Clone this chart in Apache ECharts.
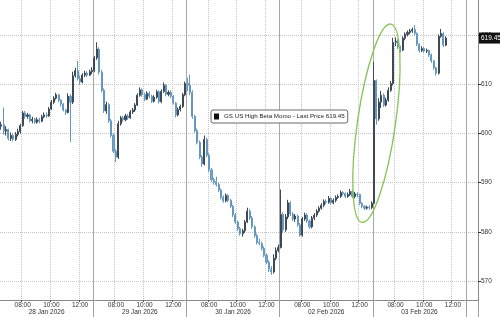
<!DOCTYPE html>
<html><head><meta charset="utf-8">
<script src="https://cdn.jsdelivr.net/npm/echarts@6/dist/echarts.min.js"></script>
<style>html,body{margin:0;padding:0;background:#fff}#c{width:500px;height:317px}</style>
</head><body><div id="c"></div>
<script>
const seriesName = 'GS US High Beta Momo';
const lastPrice = 619.45;
const dayLabels = ['28 Jan 2026', '29 Jan 2026', '30 Jan 2026', '02 Feb 2026', '03 Feb 2026'];
const sessionTimes = ['06:30','06:40','06:50','07:00','07:10','07:20','07:30','07:40','07:50','08:00','08:10','08:20','08:30','08:40','08:50','09:00','09:10','09:20','09:30','09:40','09:50','10:00','10:10','10:20','10:30','10:40','10:50','11:00','11:10','11:20','11:30','11:40','11:50','12:00','12:10','12:20','12:30','12:40','12:50'];
const extraTimes = ['13:00','13:10','13:20','13:30','13:40'];
const yTicks = [570, 580, 590, 600, 610, 620];
// [open, close, low, high], 10-minute bars
const day1 = [
[601.5,601.8,600.8,602.4],[601.8,600.5,599.8,605.3],[600.5,600.8,599.6,601.5],[600.8,599.0,598.6,601.0],
[599.0,599.6,598.5,600.2],[599.6,598.8,598.4,600.0],[598.8,599.8,598.5,600.3],[599.8,600.4,599.4,601.0],
[600.4,601.6,600.0,602.0],[601.6,604.2,601.4,604.6],[604.2,603.5,603.0,604.6],[603.5,603.8,603.0,604.2],
[603.8,602.6,602.3,604.0],[602.6,602.9,602.1,603.4],[602.9,602.3,602.0,603.2],[602.3,602.8,602.0,603.3],
[602.8,602.5,602.1,603.2],[602.5,603.4,602.3,603.8],[603.4,603.8,603.1,604.3],[603.8,603.6,603.2,604.3],
[603.6,605.0,603.4,605.4],[605.0,606.4,604.8,606.8],[606.4,607.2,606.0,607.6],[607.2,607.9,606.9,608.3],
[607.9,606.8,606.4,608.1],[606.8,606.0,605.5,607.0],[606.0,604.8,604.5,606.2],[604.8,604.3,603.8,605.0],
[604.3,607.6,604.1,608.2],[607.6,606.4,598.3,608.0],[606.4,611.8,606.0,612.6],[611.8,612.8,611.4,613.4],
[612.8,611.2,610.8,614.8],[611.2,610.5,609.9,611.8],[610.5,611.9,610.2,612.3],[611.9,612.3,611.5,612.8],
[612.3,611.9,611.5,612.7],[611.9,612.6,611.7,613.0],[612.6,612.9,612.1,613.5]
];
const day2 = [
[612.9,615.4,612.5,615.8],[615.4,617.2,615.0,618.6],[617.2,612.5,612.0,617.6],[612.5,608.8,608.4,613.0],
[608.8,604.6,604.2,609.2],[604.6,605.9,604.0,606.5],[605.9,602.6,602.2,606.2],[602.6,599.6,599.2,603.0],
[599.6,596.4,596.0,600.0],[596.4,595.2,594.2,596.8],[595.2,602.0,594.8,602.6],[602.0,603.2,601.6,603.6],
[603.2,602.8,602.4,603.6],[602.8,603.6,602.5,604.0],[603.6,603.2,602.8,604.0],[603.2,604.4,603.0,604.8],
[604.4,604.8,604.0,605.2],[604.8,605.8,604.4,606.2],[605.8,607.8,605.6,608.2],[607.8,608.9,607.5,609.4],
[608.9,607.9,607.5,609.2],[607.9,607.0,606.6,608.3],[607.0,608.2,606.8,608.6],[608.2,607.6,607.2,608.6],
[607.6,606.6,606.2,607.9],[606.6,607.4,606.3,607.8],[607.4,608.5,607.1,608.9],[608.5,606.5,606.1,608.8],
[606.5,608.6,606.2,609.0],[608.6,609.8,608.3,610.4],[609.8,608.0,607.6,610.1],[608.0,608.4,607.6,608.8],
[608.4,607.6,607.2,608.8],[607.6,606.2,605.9,607.8],[606.2,603.8,603.3,606.4],[603.8,604.9,603.5,605.3],
[604.9,605.5,604.5,605.9],[605.5,607.9,605.2,608.3],[607.9,610.2,607.6,610.6]
];
const day3 = [
[610.2,609.8,608.6,611.4],[609.8,608.4,607.8,612.0],[608.4,603.5,603.0,608.8],[603.5,600.6,600.2,603.8],
[600.6,598.2,597.8,601.0],[598.2,595.2,594.8,598.6],[595.2,593.8,593.2,595.6],[593.8,598.8,593.5,599.6],
[598.8,595.6,595.2,599.2],[595.6,592.6,592.2,596.0],[592.6,590.6,590.2,593.0],[590.6,590.2,589.6,591.0],
[590.2,589.6,589.2,591.2],[589.6,588.5,588.1,590.0],[588.5,587.0,586.6,588.8],[587.0,586.3,585.9,587.4],
[586.3,587.4,586.0,587.8],[587.4,586.4,586.0,587.7],[586.4,585.2,584.8,586.7],[585.2,583.4,583.0,585.5],
[583.4,582.0,581.6,583.8],[582.0,580.6,580.2,582.3],[580.6,579.6,579.2,581.0],[579.6,580.2,579.0,580.6],
[580.2,582.0,579.8,582.4],[582.0,584.2,581.8,584.9],[584.2,582.8,582.4,584.6],[582.8,581.0,580.6,583.2],
[581.0,579.2,578.8,581.3],[579.2,577.8,577.4,579.6],[577.8,577.6,577.2,578.6],[577.6,576.6,576.2,578.0],
[576.6,575.2,574.8,577.0],[575.2,573.8,573.4,575.6],[573.8,572.4,571.8,574.2],[572.4,571.8,571.2,573.0],
[571.8,574.6,571.5,575.4],[574.6,576.2,574.2,576.8],[576.2,576.8,575.8,577.4]
];
const day4 = [
[576.8,583.5,576.6,588.6],[583.5,580.4,579.8,584.0],[580.4,583.0,580.0,583.6],[583.0,585.9,582.6,586.5],
[585.9,583.6,583.2,586.2],[583.6,582.6,582.2,584.0],[582.6,583.2,582.0,583.6],[583.2,581.4,581.0,583.5],
[581.4,579.3,579.0,581.8],[579.3,582.6,579.0,583.0],[582.6,583.4,582.2,583.9],[583.4,582.2,581.8,583.8],
[582.2,581.0,580.6,582.5],[581.0,582.8,580.7,583.2],[582.8,583.4,582.4,583.8],[583.4,584.2,583.0,584.6],
[584.2,584.8,583.9,585.2],[584.8,585.4,584.5,585.8],[585.4,586.2,585.0,586.6],[586.2,586.0,585.6,586.6],
[586.0,586.8,585.7,587.3],[586.8,585.9,585.5,587.0],[585.9,586.4,585.6,586.8],[586.4,587.0,586.0,587.4],
[587.0,587.2,586.7,587.6],[587.2,588.0,586.9,588.4],[588.0,587.8,587.4,588.3],[587.8,587.2,586.9,588.0],
[587.2,587.6,586.9,588.0],[587.6,588.2,587.3,588.7],[588.2,587.2,586.9,588.4],[587.2,587.7,586.8,588.1],
[587.7,587.6,587.0,588.0],[587.6,585.8,585.4,587.8],[585.8,585.2,584.8,586.0],[585.2,584.8,584.4,585.4],
[584.8,585.0,584.5,585.3],[585.0,584.9,584.5,585.4],[584.9,585.8,584.6,586.2]
];
const day5 = [
[585.8,610.8,585.6,614.6],[610.8,603.0,601.8,611.0],[603.0,606.4,602.6,607.2],[606.4,607.8,605.2,608.7],
[607.8,605.8,605.4,608.2],[605.8,606.8,605.5,607.3],[606.8,608.8,606.5,609.4],[608.8,610.2,608.5,610.7],
[610.2,618.6,609.8,619.5],[618.6,618.8,617.8,619.6],[618.8,617.6,617.2,619.2],[617.6,617.0,616.5,617.9],
[617.0,619.4,616.8,619.8],[619.4,620.2,619.0,620.6],[620.2,620.6,619.8,621.0],[620.6,620.9,620.2,621.3],
[620.9,621.2,620.5,621.6],[621.2,620.4,620.0,622.1],[620.4,618.2,617.8,620.6],[618.2,616.9,616.5,618.4],
[616.9,617.3,616.6,617.8],[617.3,616.8,616.4,617.6],[616.8,616.9,616.4,617.3],[616.9,616.0,615.6,617.1],
[616.0,614.8,614.4,616.3],[614.8,613.4,613.0,615.0],[613.4,612.3,611.8,613.6],[612.3,619.8,612.0,620.2],
[619.8,620.4,619.5,621.3],[620.4,618.0,617.6,620.6],[618.0,619.45,617.8,619.8]
];

const categories = [];
dayLabels.forEach((d, i) => {
  const slots = i === dayLabels.length - 1 ? sessionTimes.concat(extraTimes) : sessionTimes;
  slots.forEach(t => categories.push(d + ' ' + t));
});
const ohlc = [].concat(day1, day2, day3, day4, day5);
const perDay = sessionTimes.length;
const hourMark = v => /(08|10|12):00$/.test(v);
const dayStart = i => i > 0 && i % perDay === 0;
const dayMid = i => i % perDay === 19;
const FONT = 'Liberation Sans, Arial, sans-serif';

const chart = echarts.init(document.getElementById('c'), null, {renderer: 'canvas'});
chart.setOption({
  animation: false,
  backgroundColor: '#fff',
  textStyle: {fontFamily: FONT},
  grid: {left: 0, right: 22, top: 0, bottom: 17, containLabel: false},
  legend: {
    left: 211, top: 110, selectedMode: false,
    data: [{name: seriesName, icon: 'rect', itemStyle: {color: '#111', borderWidth: 0}}],
    itemWidth: 5, itemHeight: 6,
    formatter: n => n + ' - Last Price ' + lastPrice.toFixed(2),
    textStyle: {fontSize: 6.2, color: '#222', fontFamily: FONT},
    backgroundColor: '#fff', borderColor: '#6a6a6a', borderWidth: 1, borderRadius: 2, padding: [3.5, 3]
  },
  xAxis: [
    {
      type: 'category', data: categories, boundaryGap: true,
      axisLine: {show: true, lineStyle: {color: '#8a8a8a'}},
      axisTick: {show: true, interval: (i, v) => hourMark(v), length: 2, lineStyle: {color: '#555'}},
      axisLabel: {interval: (i, v) => hourMark(v), formatter: v => v.slice(-5), fontSize: 6.5, color: '#333', margin: 2, fontFamily: FONT},
      splitLine: {show: true, interval: (i, v) => hourMark(v), lineStyle: {color: '#c4c4c4', type: 'dotted', width: 1}}
    },
    {
      type: 'category', data: categories, boundaryGap: true, position: 'bottom',
      axisLine: {show: false},
      axisTick: {show: true, interval: i => dayStart(i), length: 17, lineStyle: {color: '#a0a0a0'}},
      axisLabel: {interval: i => dayMid(i), formatter: v => v.slice(0, 11), fontSize: 6.5, color: '#333', margin: 9, fontFamily: FONT},
      splitLine: {show: true, interval: i => dayStart(i), lineStyle: {color: '#a8a8a8', width: 1}}
    }
  ],
  yAxis: {
    type: 'value', position: 'right', min: 566.1, max: 627.2, scale: true,
    axisLine: {show: true, lineStyle: {color: '#8a8a8a'}},
    axisTick: {show: true, customValues: yTicks, length: 3, lineStyle: {color: '#333'}},
    axisLabel: {customValues: yTicks, fontSize: 6.5, color: '#333', margin: 3, fontFamily: FONT},
    splitLine: {show: true, lineStyle: {color: '#c4c4c4', type: 'dotted', width: 1}}
  },
  series: [{
    type: 'candlestick', name: seriesName, data: ohlc, xAxisIndex: 0, yAxisIndex: 0,
    barWidth: '65%',
    itemStyle: {color: '#3e4955', color0: '#76a5cb', borderColor: '#3e4955', borderColor0: '#6598c0', borderWidth: 1},
    markLine: {
      silent: true, symbol: 'none', animation: false,
      data: [{yAxis: lastPrice}],
      lineStyle: {color: 'rgba(0,0,0,0)', width: 1, type: 'solid'},
      label: {show: true, position: 'end', formatter: () => lastPrice.toFixed(2), backgroundColor: '#111', color: '#fff',
              fontSize: 6.5, padding: [2, 3, 2, 2], distance: 1, fontFamily: FONT}
    }
  }]
});

// Green ellipse annotation anchored in data coordinates (top and bottom ends)
const ellTop = chart.convertToPixel({xAxisIndex: 0, yAxisIndex: 0}, [163, 622.3]);
const ellBot = chart.convertToPixel({xAxisIndex: 0, yAxisIndex: 0}, [151, 581.9]);
const ellCx = (ellTop[0] + ellBot[0]) / 2, ellCy = (ellTop[1] + ellBot[1]) / 2;
const ellLen = Math.hypot(ellTop[0] - ellBot[0], ellTop[1] - ellBot[1]);
const ellRot = -Math.atan2(ellTop[0] - ellBot[0], ellBot[1] - ellTop[1]);
chart.setOption({
  graphic: [{
    type: 'ellipse', x: ellCx, y: ellCy, rotation: ellRot, z: 100, silent: true,
    shape: {cx: 0, cy: 0, rx: 19, ry: ellLen / 2},
    style: {fill: 'none', stroke: '#86c455', lineWidth: 1.3}
  }]
});
</script>
</body></html>
